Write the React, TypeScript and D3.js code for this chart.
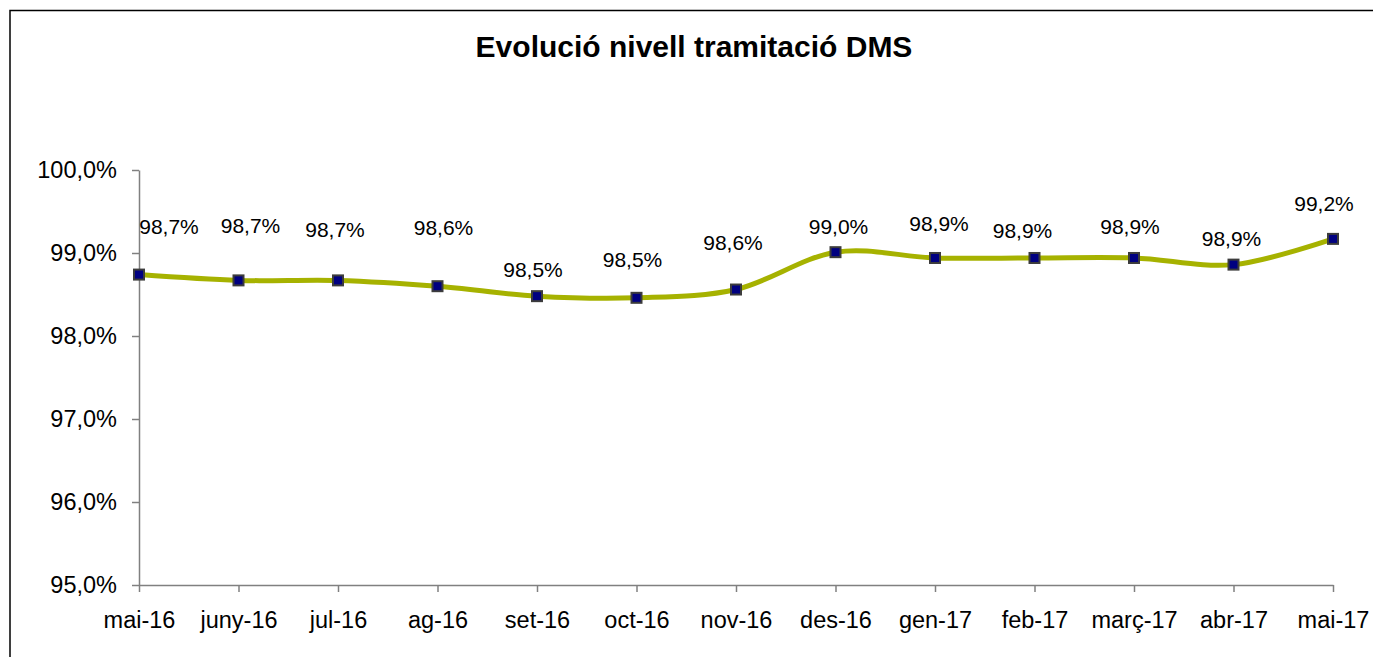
import React, { useRef, useEffect } from "react";
import * as d3 from "d3";

const months = [
  "mai-16", "juny-16", "jul-16", "ag-16", "set-16", "oct-16", "nov-16",
  "des-16", "gen-17", "feb-17", "març-17", "abr-17", "mai-17"
];
const nivell = [
  98.74, 98.67, 98.67, 98.60, 98.48, 98.46, 98.56,
  99.01, 98.94, 98.94, 98.94, 98.86, 99.17
];
const yTicks = [95, 96, 97, 98, 99, 100];
const title = "Evolució nivell tramitació DMS";

// label nudges (Excel put the value labels by hand)
const labelDx = [30, 12, -3, 6, -4, -4, -3, 3, 4, -12, -4, -2, -9];
const labelDy = [-48, -55, -51, -59, -27, -38, -47, -26, -34, -27, -31, -26, -35];

const W = 1373, H = 657;

export default function App() {
  const svgRef = useRef<SVGSVGElement>(null);

  useEffect(() => {
    const svg = d3.select(svgRef.current);
    svg.selectAll("*").remove();
    const font = "'Liberation Sans', Arial, sans-serif";
    const locale = d3.formatLocale({
      decimal: ",", thousands: ".", grouping: [3], currency: ["", "€"]
    });
    const pct = locale.format(".1%");

    const x = d3.scalePoint<string>().domain(months).range([139, 1333]);
    const y = d3.scaleLinear().domain([95, 100]).range([585, 170]);

    svg.append("rect").attr("width", W).attr("height", H).attr("fill", "#fff");
    // outer frame
    svg.append("rect")
      .attr("x", 10).attr("y", 10.5)
      .attr("width", W + 20).attr("height", H + 20)
      .attr("fill", "none").attr("stroke", "#000").attr("stroke-width", 1.5);

    svg.append("text")
      .attr("x", 694).attr("y", 57)
      .attr("text-anchor", "middle")
      .style("font-family", font).style("font-size", "30px")
      .style("font-weight", "bold")
      .text(title);

    const yAxis = svg.append("g")
      .attr("transform", "translate(139,0)")
      .call(d3.axisLeft(y).tickValues(yTicks).tickSize(7).tickSizeOuter(0)
        .tickPadding(15).tickFormat(d => pct(+d / 100)));
    const xAxis = svg.append("g")
      .attr("transform", "translate(0,585)")
      .call(d3.axisBottom(x).tickSize(7).tickSizeOuter(0).tickPadding(19));

    [yAxis, xAxis].forEach(g => {
      g.attr("font-family", font).attr("font-size", 23.5);
      g.selectAll("path, line").attr("stroke", "#808080").attr("stroke-width", 1.5);
      g.selectAll("text").attr("fill", "#000");
    });

    const line = d3.line<number>()
      .x((_, i) => x(months[i])!)
      .y(d => y(d))
      .curve(d3.curveCardinal.tension(0));

    svg.append("path")
      .datum(nivell)
      .attr("d", line)
      .attr("fill", "none")
      .attr("stroke", "#a6b200")
      .attr("stroke-width", 5);

    svg.append("g").selectAll("rect")
      .data(nivell)
      .enter().append("rect")
      .attr("x", (_, i) => x(months[i])! - 5)
      .attr("y", d => y(d) - 5)
      .attr("width", 10).attr("height", 10)
      .attr("fill", "#000080")
      .attr("stroke", "#3c3c3c").attr("stroke-width", 2);

    svg.append("g").selectAll("text")
      .data(nivell)
      .enter().append("text")
      .attr("x", (_, i) => x(months[i])! + labelDx[i])
      .attr("y", (d, i) => y(d) + labelDy[i] + 7.5)
      .attr("text-anchor", "middle")
      .style("font-family", font).style("font-size", "21px")
      .text(d => pct(d / 100));
  }, []);

  return (
    <svg ref={svgRef} width={W} height={H}
      style={{ position: "absolute", left: 0, top: 0, display: "block" }} />
  );
}
